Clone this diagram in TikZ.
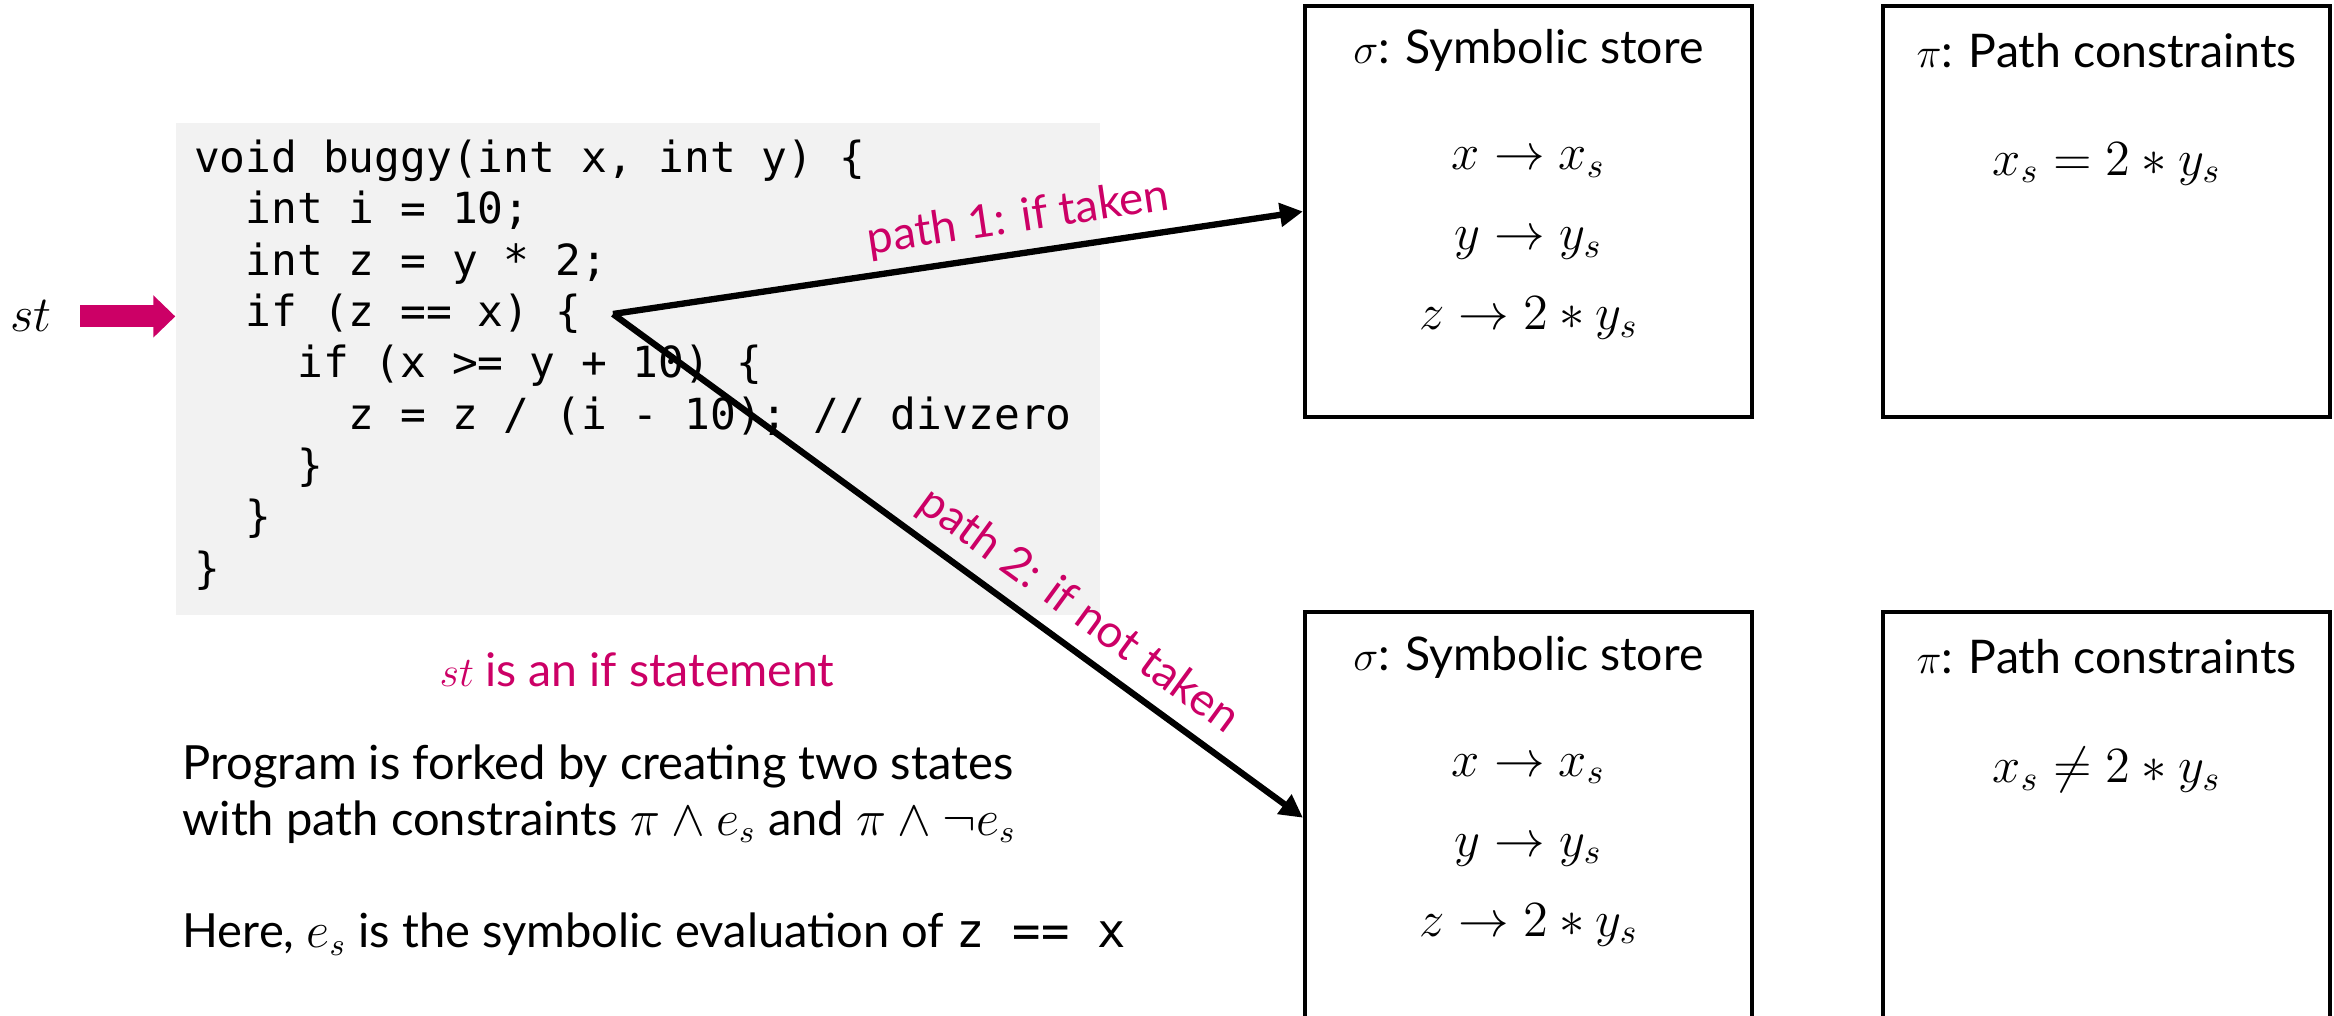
\documentclass[tikz,border=0pt]{standalone}
\usepackage{amsmath,amssymb}
\usepackage{fontspec}
\setmainfont{Lato}
\setmonofont{DejaVu Sans Mono}
\usepackage{xcolor}
\usetikzlibrary{arrows.meta, positioning, calc}
\definecolor{hlpink}{RGB}{204,0,102}
\newcommand{\ind}[1]{\phantom{#1}}
\tikzset{
  codebg/.style={fill=black!5, minimum width=9.24cm, minimum height=4.92cm, inner sep=0pt},
  code/.style={align=left, inner sep=0pt, font=\ttfamily\fontsize{12.2pt}{14.6pt}\selectfont},
  statebox/.style={draw, line width=1.2pt, minimum width=4.47cm, minimum height=4.11cm, inner sep=0pt},
  boxtitle/.style={font=\fontsize{13.2pt}{15pt}\selectfont},
  entries/.style={align=center, font=\fontsize{14.5pt}{22.76pt}\selectfont},
  forkarrow/.style={-{Triangle[length=0.23cm, width=0.23cm]}, line width=1.8pt},
  starrow/.style={-{Triangle[length=0.22cm, width=0.41cm]}, line width=0.22cm, hlpink},
  pathlabel/.style={sloped, above, inner sep=3pt, text=hlpink, font=\fontsize{13pt}{15pt}\selectfont},
  note/.style={align=left, inner sep=0pt, font=\fontsize{13.4pt}{15.9pt}\selectfont},
  every node/.style={font=\fontsize{13.2pt}{15pt}\selectfont}
}

\begin{document}
\begin{tikzpicture}
    \useasboundingbox (0,0) rectangle (23.34,10.16);

    % code being executed
    \node[codebg] (codebox) at (6.38,6.47) {};
    \node[code, anchor=north west] (code) at ([xshift=0.18cm, yshift=-0.17cm]codebox.north west)
      {void buggy(int x, int y) \{\\
       \ind{xx}int i = 10;\\
       \ind{xx}int z = y * 2;\\
       \ind{xx}if (z == x) \{\\
       \ind{xxxx}if (x >= y + 10) \{\\
       \ind{xxxxxx}z = z / (i - 10); // divzero\\
       \ind{xxxx}\}\\
       \ind{xx}\}\\
       \}};
    \node[inner sep=0pt, anchor=base, font=\fontsize{13.5pt}{15pt}\selectfont] (st) at (0.31,6.84) {$st$};
    \draw[starrow] ([xshift=0.28cm]st.east) -- (st.east -| codebox.west);
    \coordinate (fork) at (6.13,7.02);

    % states after the fork
    \node[statebox] (store1) at (15.285,8.045) {};
    \node[statebox, right=1.27cm of store1] (cons1) {};
    \node[statebox, below=1.91cm of store1] (store2) {};
    \node[statebox, right=1.27cm of store2] (cons2) {};

    \node[boxtitle] (store1title) at ([yshift=-0.47cm]store1.north) {$\sigma$: Symbolic store};
    \node[boxtitle] (cons1title) at ([yshift=-0.47cm]cons1.north) {$\pi$: Path constraints};
    \node[boxtitle] (store2title) at ([yshift=-0.47cm]store2.north) {$\sigma$: Symbolic store};
    \node[boxtitle] (cons2title) at ([yshift=-0.47cm]cons2.north) {$\pi$: Path constraints};

    \node[entries] (store1map) at ([yshift=-2.40cm]store1.north) {$x \to x_s$\\ $y \to y_s$\\ $z \to 2 \ast y_s$};
    \node[entries] (cons1expr) at ([yshift=-1.60cm]cons1.north) {$x_s = 2 \ast y_s$};
    \node[entries] (store2map) at ([yshift=-2.40cm]store2.north) {$x \to x_s$\\ $y \to y_s$\\ $z \to 2 \ast y_s$};
    \node[entries] (cons2expr) at ([yshift=-1.60cm]cons2.north) {$x_s \neq 2 \ast y_s$};

    \draw[forkarrow] (fork) -- node[pathlabel, pos=0.595] (taken) {path 1: if taken} (store1.west);
    \draw[forkarrow] (fork) -- node[pathlabel, pos=0.645] (nottaken) {path 2: if not taken} (store2.west);

    % explanation
    \node[anchor=base, text=hlpink] (stnote) at (6.37,3.29) {$st$ is an if statement};
    \node[note, anchor=west] (forknote) at (1.82,2.22)
      {Program is forked by creating two states\\with path constraints $\pi \wedge e_s$ and $\pi \wedge \neg e_s$};
    \node[note, anchor=base west] (esnote) at (1.82,0.68) {Here, $e_s$ is the symbolic evaluation of \texttt{z == x}};
\end{tikzpicture}
\end{document}
